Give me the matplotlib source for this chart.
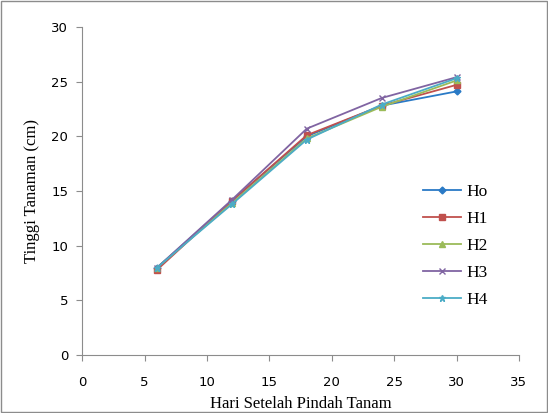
import matplotlib
matplotlib.use("Agg")
import matplotlib.pyplot as plt

hari = [6, 12, 18, 24, 30]
ho = [8.0, 14.1, 20.0, 22.8, 24.1]
h1 = [7.8, 14.1, 20.1, 22.8, 24.7]
h2 = [8.0, 13.9, 19.8, 22.7, 25.1]
h3 = [8.0, 14.2, 20.7, 23.5, 25.4]
h4 = [8.0, 13.8, 19.7, 22.9, 25.3]
labels = ["Ho", "H1", "H2", "H3", "H4"]
colors = ["#2a7ac6", "#c0504d", "#9bbb59", "#8064a2", "#4bacc6"]
markers = ["D", "s", "^", "x", "*"]
sizes = [3.5, 4.5, 4.5, 4.5, 5]

fig = plt.figure(figsize=(5.48, 4.13), dpi=100)
ax = fig.add_axes([0.150, 0.140, 0.797, 0.795])

for ys, lab, c, m, s in zip([ho, h1, h2, h3, h4], labels, colors, markers, sizes):
    ax.plot(hari, ys, color=c, marker=m, markersize=s, linewidth=1.3, label=lab)

ax.set_xlim(0, 35)
ax.set_ylim(0, 30)
ax.set_xticks(range(0, 36, 5))
ax.set_yticks(range(0, 31, 5))
for sp in ["top", "right"]:
    ax.spines[sp].set_visible(False)
for sp in ["left", "bottom"]:
    ax.spines[sp].set_color("#8c8c8c")
ax.tick_params(direction="out", color="#8c8c8c", length=4, labelsize=9.5, pad=6)
ax.tick_params(axis="x", pad=11)

ax.set_xlabel("Hari Setelah Pindah Tanam", fontfamily="Liberation Serif", fontsize=12, labelpad=5)
ax.set_ylabel("Tinggi Tanaman (cm)", fontfamily="Liberation Serif", fontsize=12, labelpad=8)

ax.legend(loc="center left", bbox_to_anchor=(0.745, 0.332), frameon=False,
          prop={"family": "Liberation Serif", "size": 12.5}, handlelength=2.2,
          labelspacing=0.62, handletextpad=0.3)

border = plt.Rectangle((0.002, 0.002), 0.996, 0.996, transform=fig.transFigure,
                       fill=False, edgecolor="#8c8c8c", linewidth=1)
fig.patches.append(border)

fig.savefig("out.png", dpi=100)
